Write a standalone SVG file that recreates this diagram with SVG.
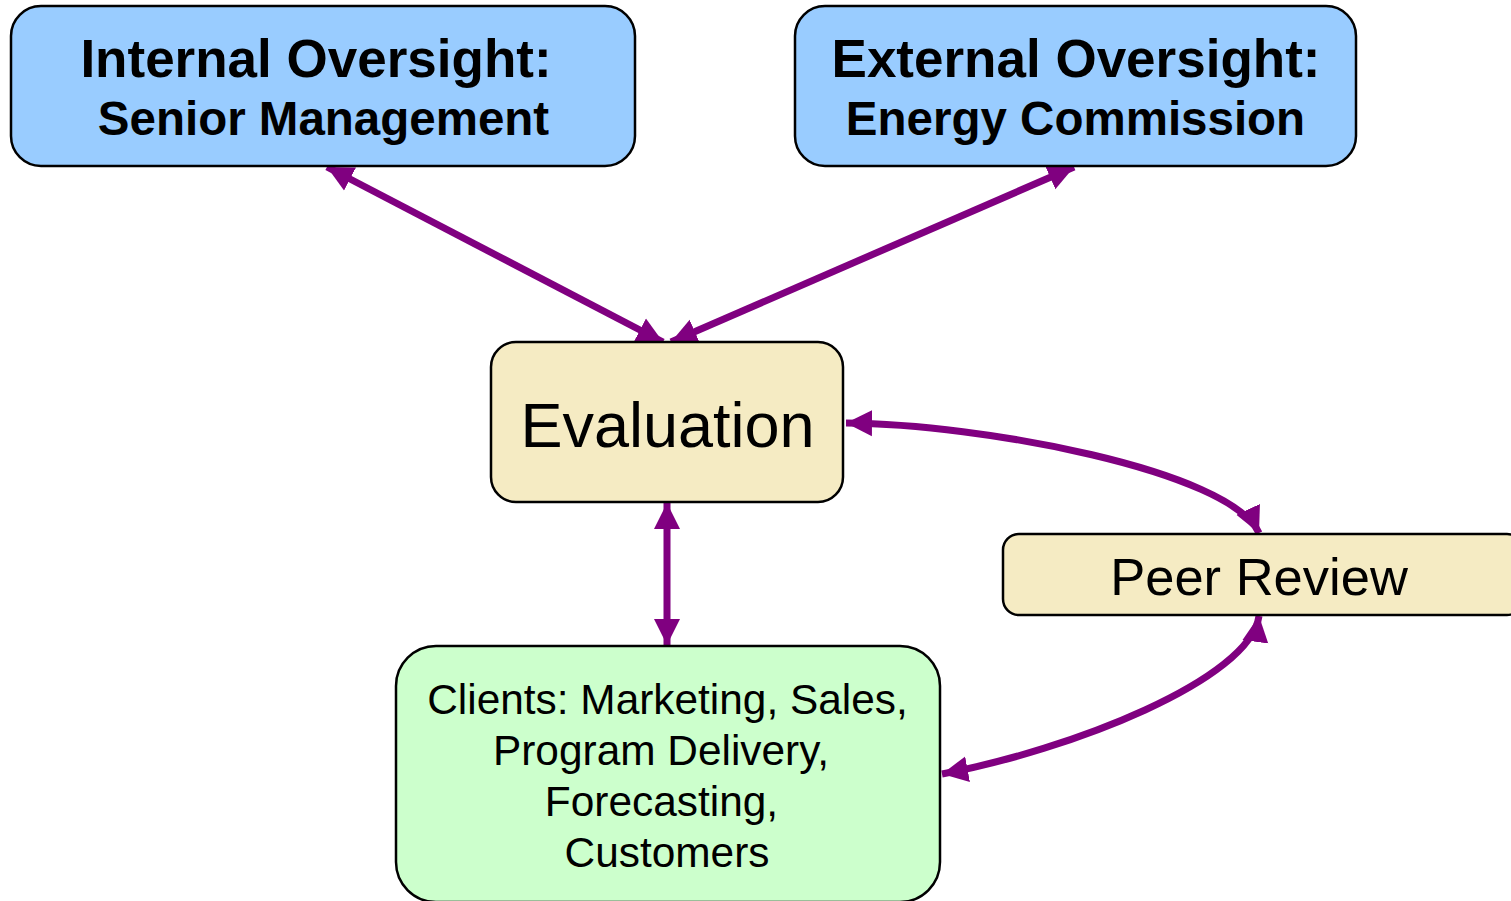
<svg xmlns="http://www.w3.org/2000/svg" width="1511" height="901" viewBox="0 0 1511 901">
<style>
.box{stroke:#000;stroke-width:2.5}
.blue{fill:#99CCFF}
.beige{fill:#F5EBC3}
.green{fill:#CCFFCC}
.t{font-family:"Liberation Sans",Arial,sans-serif;fill:#000;text-anchor:middle}
.b{font-weight:bold}
.c{fill:none;stroke:#800080;stroke-width:7;marker-start:url(#ah);marker-end:url(#ah)}
</style>
<defs>
<marker id="ah" markerUnits="userSpaceOnUse" markerWidth="28" markerHeight="28" viewBox="0 0 28 28" refX="26" refY="14" orient="auto-start-reverse">
<path d="M0,1 L26,14 L0,27 z" fill="#800080"/>
</marker>
</defs>
<rect width="1511" height="901" fill="#fff"/>
<g id="connectors">
<line class="c" x1="327" y1="167" x2="663" y2="342"/>
<line class="c" x1="1074" y1="167" x2="671" y2="342"/>
<line class="c" x1="667" y1="503" x2="667" y2="645"/>
<path class="c" d="M846,423 C980,424 1230,470 1259,533"/>
<path class="c" d="M1259,616 C1250,680 1070,750 942,774"/>
</g>
<g id="internal">
<rect class="box blue" x="11" y="6" width="624" height="160" rx="30"/>
<text class="t b" x="316" y="77" font-size="53">Internal Oversight:</text>
<text class="t b" x="323.5" y="135" font-size="47.5">Senior Management</text>
</g>
<g id="external">
<rect class="box blue" x="795" y="6" width="561" height="160" rx="30"/>
<text class="t b" x="1076" y="77" font-size="53">External Oversight:</text>
<text class="t b" x="1075.5" y="135" font-size="47.5">Energy Commission</text>
</g>
<g id="evaluation">
<rect class="box beige" x="491" y="342" width="352" height="160" rx="25"/>
<text class="t" x="667.5" y="447" font-size="63">Evaluation</text>
</g>
<g id="peer-review">
<rect class="box beige" x="1003" y="534" width="520" height="81" rx="16"/>
<text class="t" x="1259" y="595" font-size="52.5">Peer Review</text>
</g>
<g id="clients">
<rect class="box green" x="396" y="646" width="544" height="256" rx="40"/>
<text class="t" font-size="42.4"><tspan x="667.5" y="714">Clients: Marketing, Sales,</tspan><tspan x="661" y="765">Program Delivery,</tspan><tspan x="661.5" y="816">Forecasting,</tspan><tspan x="667" y="867">Customers</tspan></text>
</g>
</svg>
